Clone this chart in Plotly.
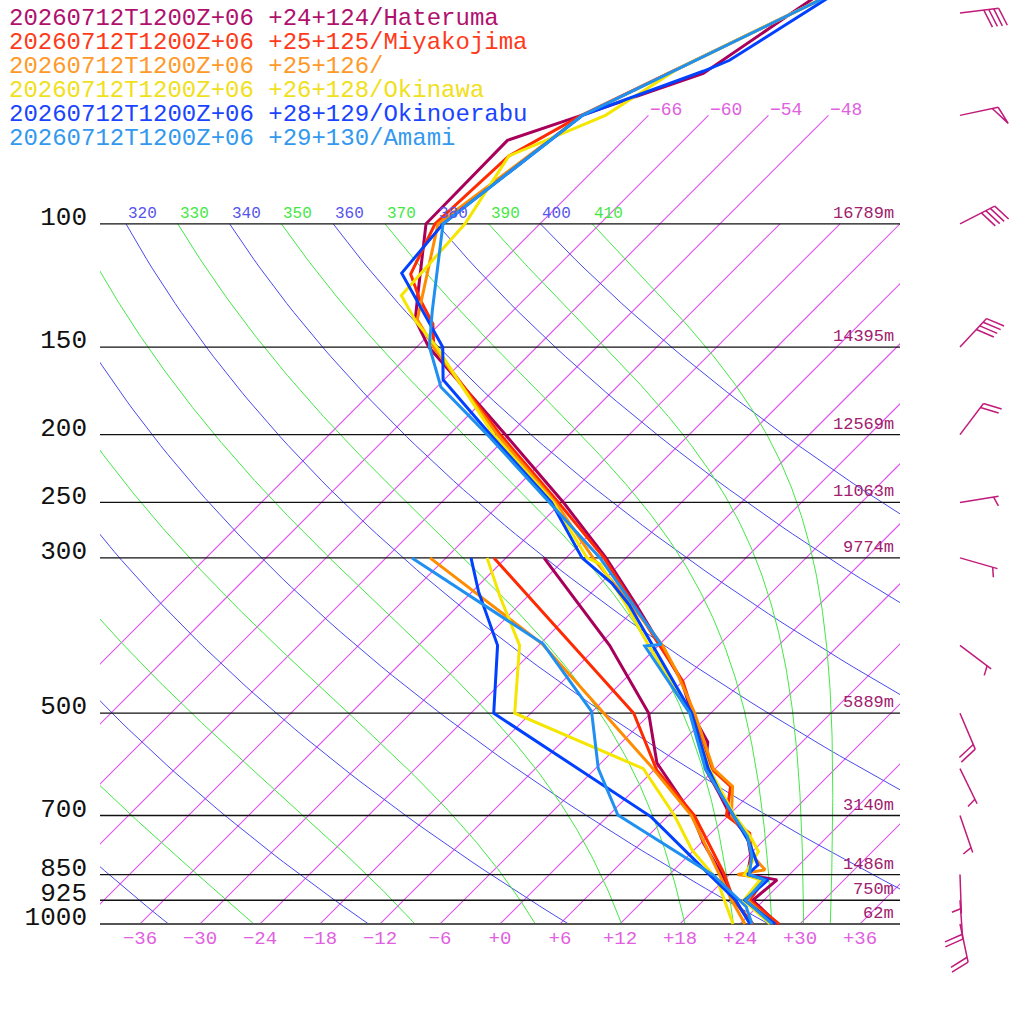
import numpy as np
import plotly.graph_objects as go

# ------------------------------------------------------------------ data
VALID = "20260712T1200Z+06"
STATION_LABELS = ["+24+124/Hateruma", "+25+125/Miyakojima", "+25+126/",
                  "+26+128/Okinawa", "+28+129/Okinoerabu", "+29+130/Amami"]
LINE_COLORS = ["#a8005a", "#ff2a00", "#ff8c00", "#f5e600", "#0040ff", "#2090f0"]
TEXT_COLORS = ["#b0106e", "#ff3a1a", "#ff9a2a", "#f0e020", "#1a44ff", "#3399ee"]

# temperature profiles (hPa, degC)
HAT_P = [1000, 925, 865, 850, 800, 750, 700, 650, 600, 570, 550, 500, 450, 400, 350, 300,
         250, 200, 150, 137, 125, 100, 76, 70, 61, 50, 45]
HAT_T = [27.8, 22.9, 23.3, 19.8, 18.3, 16.0, 12.2, 8.8, 5.0, 3.6, 2.6, -1.9, -6.1, -11.8,
         -18.3, -26.0, -35.8, -48.4, -64.8, -68.9, -71.4, -77.4, -77.6, -72.7, -64.7, -61.9, -60.4]
MIY_P = [1000, 925, 865, 850, 800, 742, 700, 636, 600, 500, 450, 400, 350, 300, 250, 200,
         150, 139, 127.5, 118, 100, 80, 70, 60, 50, 45]
MIY_T = [27.9, 22.6, 22.0, 19.8, 18.4, 15.9, 11.8, 9.3, 5.6, -1.8, -6.0, -11.9, -18.5, -26.2,
         -36.3, -48.9, -64.3, -66.7, -70.7, -73.9, -76.5, -75.9, -72.7, -67.7, -61.8, -58.4]
ORA_P = [1000, 925, 860, 850, 837, 800, 750, 700, 636, 600, 500, 433, 400, 350, 300, 250,
         200, 150, 137, 100, 70, 60, 50, 45]
ORA_T = [27.4, 22.4, 21.6, 18.8, 21.1, 18.5, 16.1, 12.3, 9.5, 5.8, -1.6, -7.9, -11.6, -18.8,
         -27.3, -36.6, -49.2, -64.3, -68.7, -76.2, -72.6, -67.7, -61.8, -58.4]
OKI_P = [1000, 925, 865, 850, 788, 750, 700, 600, 500, 400, 350, 306, 300, 250, 200, 150,
         138, 126.6, 100, 80, 70, 60, 50, 45]
OKI_T = [27.0, 22.0, 21.6, 19.5, 18.6, 16.3, 12.6, 5.4, -2.0, -13.0, -19.3, -26.0, -27.9,
         -36.8, -49.6, -64.0, -68.6, -72.7, -73.5, -75.9, -70.3, -67.7, -61.8, -58.4]
OKE_P = [1000, 925, 865, 850, 824, 767, 700, 650, 600, 500, 400, 350, 326, 300, 250, 200,
         167, 150, 117.6, 100, 70, 60.5, 58.4, 50, 45]
OKE_T = [27.5, 22.1, 22.4, 19.8, 19.9, 16.9, 12.5, 8.9, 5.3, -1.9, -12.6, -19.0, -22.9, -28.4,
         -37.0, -49.9, -60.1, -63.4, -74.9, -75.7, -72.6, -64.9, -63.4, -60.7, -58.8]
AMA_P = [1000, 925, 865, 850, 800, 750, 700, 600, 500, 401, 399, 350, 300, 250, 200, 171,
         149.7, 133, 110, 100, 70, 60, 50, 45]
AMA_T = [27.2, 22.2, 22.0, 20.0, 18.4, 16.0, 12.5, 5.0, -2.1, -13.3, -11.8, -18.6, -26.6,
         -37.2, -50.2, -59.6, -64.8, -68.1, -73.2, -75.7, -72.6, -67.7, -61.8, -58.4]

# dew point profiles (hPa, degC)
HAT_DP = [1000, 919, 842, 767, 700, 589, 500, 400, 300]
HAT_TD = [25.1, 20.8, 16.8, 12.3, 8.4, -0.4, -6.2, -16.9, -32.2]
MIY_DP = [1000, 925, 846, 700, 603, 500, 300]
MIY_TD = [25.3, 21.0, 17.3, 8.6, 0.3, -7.7, -37.2]
ORA_DP = [1000, 925, 850, 700, 595, 500, 398, 300]
ORA_TD = [24.5, 20.8, 17.0, 8.3, -0.7, -10.7, -23.8, -43.6]
OKI_DP = [1000, 865, 784, 700, 600, 500, 400, 341, 300]
OKI_TD = [23.3, 17.3, 11.8, 6.6, -1.2, -19.6, -25.9, -32.7, -37.9]
OKE_DP = [1000, 925, 850, 703, 500, 400, 335, 300]
OKE_TD = [25.0, 21.2, 16.0, 4.4, -21.7, -28.1, -35.4, -39.5]
AMA_DP = [1000, 945, 851, 699, 600, 497, 398, 300]
AMA_TD = [25.2, 22.9, 16.4, 0.9, -5.7, -12.1, -23.7, -45.4]

TEMP_SERIES = [(HAT_P, HAT_T), (MIY_P, MIY_T), (ORA_P, ORA_T),
               (OKI_P, OKI_T), (OKE_P, OKE_T), (AMA_P, AMA_T)]
DEW_SERIES = [(HAT_DP, HAT_TD), (MIY_DP, MIY_TD), (ORA_DP, ORA_TD),
              (OKI_DP, OKI_TD), (OKE_DP, OKE_TD), (AMA_DP, AMA_TD)]

# pressure levels and their heights
LEVELS = [1000, 925, 850, 700, 500, 300, 250, 200, 150, 100]
LEVEL_LABELS = ["1000", "925", "850", "700", "500", "300", "250", "200", "150", "100"]
LEVEL_HEIGHTS = ["62m", "750m", "1486m", "3140m", "5889m", "9774m", "11063m",
                 "12569m", "14395m", "16789m"]

# Hateruma winds (direction from, knots)
BARB_P = [50, 70, 100, 150, 200, 250, 300, 400, 500, 600, 700, 850, 925, 1000]
BARB_DIR = [83, 78, 63, 43, 37, 81, 106, 127, 157, 154, 161, 178, 176, 168]
BARB_KT = [40, 50, 40, 40, 20, 5, 5, 5, 20, 5, 5, 5, 20, 20]

ISOTHERMS = list(range(-66, 37, 6))
ISOTHERM_TOP_COLD = 70      # hPa top of the labelled cold isotherms
DRY_THETA = list(range(240, 401, 20))
MOIST_THETA = list(range(250, 411, 20))
TEMP_TICKS = list(range(-36, 37, 6))

# ------------------------------------------------------------------ diagram geometry
SKEW = 70.0          # degC of skew per decade of pressure
P_TOP, P_BOTTOM = 47.9, 1389.5   # pressure at top / bottom edge of the figure
KAPPA = 0.2857
Rd, CP, LV, EPS = 287.04, 1005.7, 2.501e6, 0.622
MONO = "Liberation Mono"
ISO_COLOR = "#e052f0"


def skx(t, p):
    return np.asarray(t, float) + SKEW * np.log10(1000.0 / np.asarray(p, float))


def es(tk):
    return 6.112 * np.exp(17.67 * (tk - 273.15) / (tk - 29.65))


def dtdp(p, tk):
    e = es(tk)
    rs = EPS * e / (p - e)
    return (Rd * tk + LV * rs) / (p * (CP + LV * LV * rs * EPS / (Rd * tk * tk)))


def moist_adiabat(theta):
    ps = np.geomspace(100, 1000, 241)
    tk = theta * 0.1 ** KAPPA
    out = [tk]
    for i in range(len(ps) - 1):
        p0, p1 = ps[i], ps[i + 1]
        h = p1 - p0
        k1 = dtdp(p0, tk)
        k2 = dtdp(p0 + h / 2, tk + h * k1 / 2)
        k3 = dtdp(p0 + h / 2, tk + h * k2 / 2)
        k4 = dtdp(p1, tk + h * k3)
        tk = tk + h * (k1 + 2 * k2 + 2 * k3 + k4) / 6
        out.append(tk)
    return ps, np.array(out) - 273.15


fig = go.Figure()


def add_line(x, y, color, width, xaxis="x"):
    fig.add_trace(go.Scatter(x=list(x), y=list(y), mode="lines", xaxis=xaxis, yaxis="y",
                             line=dict(color=color, width=width),
                             hoverinfo="skip", showlegend=False))


annotations = []

# isotherms
for t in ISOTHERMS:
    ptop = ISOTHERM_TOP_COLD if t <= -48 else 100
    ps = np.geomspace(1000.0, ptop, 12)
    add_line(skx(np.full(ps.size, t), ps), ps, ISO_COLOR, 1.1)
    if t <= -48:
        annotations.append(dict(x=float(skx(t, ptop)), y=np.log10(ptop), xref="x", yref="y",
                                text="\u2212%d" % abs(t), showarrow=False, xanchor="left",
                                yanchor="bottom", yshift=-7,
                                font=dict(family=MONO, size=18, color="#e060e0")))

# dry adiabats
for th in DRY_THETA:
    ps = np.geomspace(100, 1000, 80)
    t = th * (ps / 1000.0) ** KAPPA - 273.15
    add_line(skx(t, ps), ps, "#4a4af0", 1)
    x100 = float(skx(th * 0.1 ** KAPPA - 273.15, 100))
    if -40 < x100 < 38:
        annotations.append(dict(x=x100, y=2, xref="x", yref="y", text=str(th),
                                showarrow=False, xanchor="left", yanchor="bottom", yshift=-1,
                                font=dict(family=MONO, size=16, color="#5555ee")))

# moist adiabats
for th in MOIST_THETA:
    ps, t = moist_adiabat(th)
    add_line(skx(t, ps), ps, "#44e844", 1)
    x100 = float(skx(t[0], 100))
    if -40 < x100 < 38:
        annotations.append(dict(x=x100, y=2, xref="x", yref="y", text=str(th),
                                showarrow=False, xanchor="left", yanchor="bottom", yshift=-1,
                                font=dict(family=MONO, size=16, color="#44e844")))

# pressure level lines and height labels
for p, hgt in zip(LEVELS, LEVEL_HEIGHTS):
    col, wid = ("#555555", 2) if p == 1000 else ("#111111", 1.3)
    add_line([-40, 40], [p, p], col, wid)
    annotations.append(dict(x=39.6, y=np.log10(p), xref="x", yref="y", text=hgt,
                            showarrow=False, xanchor="right", yanchor="bottom", yshift=-1,
                            font=dict(family=MONO, size=17, color="#a0206e")))

# soundings: dew points then temperatures
for (p, td), col in zip(DEW_SERIES, LINE_COLORS):
    add_line(skx(td, p), p, col, 3)
for (p, t), col in zip(TEMP_SERIES, LINE_COLORS):
    add_line(skx(t, p), p, col, 3)

# wind barbs (glyph geometry in pixels; x2 axis is in pixels)
BARB_X, STAFF, FULL, HALF, STEP = 960.0, 39.0, 19.0, 10.0, 5.0
TILT = np.deg2rad(20)
bx, by = [], []
for p, d, spd in zip(BARB_P, BARB_DIR, BARB_KT):
    a = np.deg2rad(d)
    ux, uy = np.sin(a), np.cos(a)
    nx, ny = uy, -ux
    dx = nx * np.cos(TILT) + ux * np.sin(TILT)
    dy = ny * np.cos(TILT) + uy * np.sin(TILT)

    def pt(s, q=0.0):
        sx = s * ux + q * dx
        sy = s * uy + q * dy
        return BARB_X + sx, p * 10 ** (-sy / 700.0)

    def seg(*pts):
        for xx, yy in pts:
            bx.append(xx)
            by.append(yy)
        bx.append(None)
        by.append(None)

    seg(pt(0), pt(STAFF))
    n50, rem = divmod(int(round(spd / 5.0)) * 5, 50)
    n10, rem = divmod(rem, 10)
    n5 = rem // 5
    pos = STAFF
    for _ in range(n50):
        seg(pt(pos), pt(pos, FULL), pt(pos - 6))
        pos -= 8
    for _ in range(n10):
        seg(pt(pos), pt(pos, FULL))
        pos -= STEP
    if n5:
        if n50 == 0 and n10 == 0:
            pos -= STEP
        seg(pt(pos), pt(pos, HALF))
add_line(bx, by, "#c01a7a", 1.5, xaxis="x2")

# header lines
for i, (lab, col) in enumerate(zip(STATION_LABELS, TEXT_COLORS)):
    annotations.append(dict(x=7 / 1024, y=1 - (18 + 24 * i) / 1024, xref="paper", yref="paper",
                            text=VALID + " " + lab, showarrow=False, xanchor="left",
                            yanchor="middle",
                            font=dict(family=MONO, size=24, color=col)))

fig.update_layout(
    width=1024, height=1024, autosize=False,
    margin=dict(l=0, r=0, t=0, b=0, pad=0),
    paper_bgcolor="white", plot_bgcolor="white",
    showlegend=False, hovermode=False,
    xaxis=dict(domain=[100 / 1024, 900 / 1024], range=[-40, 40], anchor="free",
               position=100 / 1024, tickmode="array", tickvals=TEMP_TICKS, tickformat="+d",
               showgrid=False, zeroline=False, showline=False, ticks="",
               tickfont=dict(family=MONO, size=19, color="#e060e0")),
    xaxis2=dict(domain=[900 / 1024, 1], range=[900, 1024], anchor="y", visible=False,
                showgrid=False, zeroline=False),
    yaxis=dict(type="log", domain=[0, 1], range=[np.log10(P_BOTTOM), np.log10(P_TOP)],
               anchor="x", showgrid=False, zeroline=False, showline=False,
               tickmode="array", tickvals=LEVELS, ticktext=LEVEL_LABELS, ticks="",
               ticklabelstandoff=12, ticklabelshift=8,
               tickfont=dict(family=MONO, size=26, color="#111111")),
    annotations=annotations,
)

fig.write_html("out.html", config={"displayModeBar": False},
               post_script="document.body.style.margin='0px';")
